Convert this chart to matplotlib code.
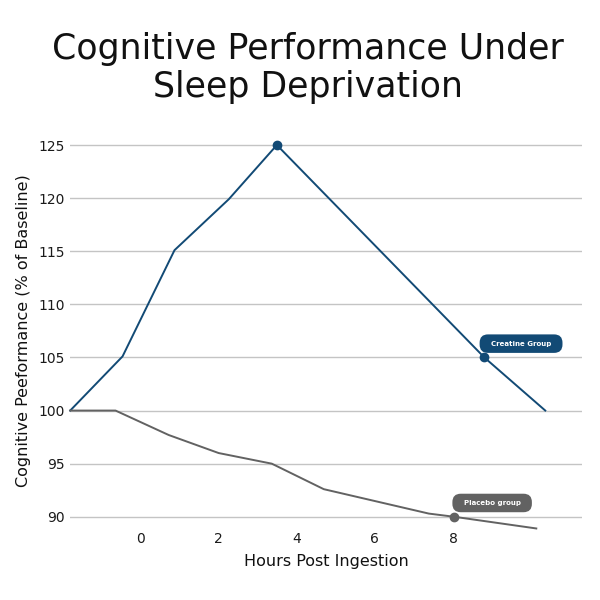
import matplotlib
matplotlib.use('Agg')
from matplotlib import pyplot as plt

# values
creatine_hours = [-1.8, -0.46, 0.87, 2.26, 3.49, 8.8, 10.36]
creatine_perf = [100, 105.1, 115.1, 119.9, 125, 105, 100]
placebo_hours = [-1.8, -0.64, 0.72, 2.0, 3.36, 4.69, 7.38, 8.03, 10.13]
placebo_perf = [100, 100, 97.7, 96.0, 95.0, 92.6, 90.3, 90, 88.9]

x_ticks = [0, 2, 4, 6, 8]
y_ticks = [90, 95, 100, 105, 110, 115, 120, 125]

blue = '#124a75'
grey = '#626262'

fig = plt.figure(figsize=(6, 6), dpi=100)
ax = fig.add_axes([0.117, 0.121, 0.853, 0.655])

ax.plot(creatine_hours, creatine_perf, color=blue, lw=1.4, clip_on=False, zorder=3)
ax.plot(placebo_hours, placebo_perf, color=grey, lw=1.4, clip_on=False, zorder=3)

# highlighted points
ax.plot([creatine_hours[4], creatine_hours[5]], [creatine_perf[4], creatine_perf[5]],
        'o', color=blue, ms=6, zorder=4, clip_on=False)
ax.plot([placebo_hours[7]], [placebo_perf[7]], 'o', color=grey, ms=6, zorder=4, clip_on=False)

ax.text(9.74, 106.3, '  Creatine Group  ', color='white', fontsize=5, fontweight='bold',
        ha='center', va='center', zorder=5,
        bbox=dict(boxstyle='round,pad=0.9,rounding_size=1.2', fc=blue, ec='none'))
ax.text(9.0, 91.3, '  Placebo group  ', color='white', fontsize=5, fontweight='bold',
        ha='center', va='center', zorder=5,
        bbox=dict(boxstyle='round,pad=0.9,rounding_size=1.2', fc=grey, ec='none'))

ax.set_xlim(-1.8, 11.3)
ax.set_ylim(89, 126)
ax.set_xticks(x_ticks)
ax.set_yticks(y_ticks)
ax.tick_params(length=0, labelsize=10, labelcolor='#1a1a1a', pad=3)
ax.tick_params(axis='y', pad=4)
ax.grid(axis='y', color='#c4c4c4', lw=1)
ax.set_axisbelow(True)
for s in ax.spines.values():
    s.set_visible(False)

ax.set_xlabel('Hours Post Ingestion', fontsize=11.5, color='#111111', labelpad=6)
ax.set_ylabel('Cognitive Peeformance (% of Baseline)', fontsize=11.5, color='#111111', labelpad=5)

fig.text(0.513, 1 - 68 / 600, 'Cognitive Performance Under\nSleep Deprivation',
         ha='center', va='center', fontsize=25, color='#111111', linespacing=1.15)

fig.savefig('out.png', dpi=100, facecolor='white')
